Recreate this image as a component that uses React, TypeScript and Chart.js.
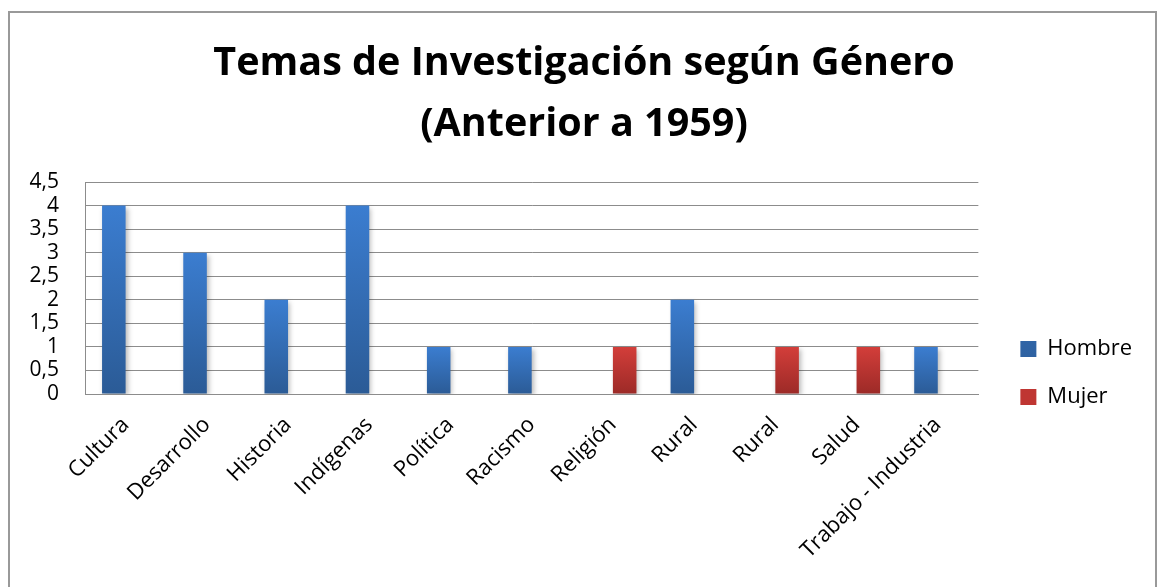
import React, { useEffect, useRef } from "react";
import { Chart, registerables } from "chart.js";

Chart.register(...registerables);

const categories = [
  "Cultura",
  "Desarrollo",
  "Historia",
  "Indígenas",
  "Política",
  "Racismo",
  "Religión",
  "Rural",
  "Rural",
  "Salud",
  "Trabajo - Industria",
];
const hombre = [4, 3, 2, 4, 1, 1, null, 2, null, null, 1];
const mujer = [null, null, null, null, null, null, 1, null, 1, 1, null];
const seriesNames = ["Hombre", "Mujer"];
const titleLines = ["Temas de Investigación según Género", "(Anterior a 1959)"];
const yMin = 0;
const yMax = 4.5;
const yStep = 0.5;

const FONT = "'Open Sans', 'Noto Sans', sans-serif";
const GRID = "#8c8c8c";

function gradient(top: string, bottom: string, mid: string) {
  return (ctx: any) => {
    const chart = ctx.chart;
    const y = chart.scales && chart.scales.y;
    if (!y || ctx.raw == null || !chart.chartArea) return mid;
    const yTop = y.getPixelForValue(ctx.raw);
    const yBot = y.getPixelForValue(0);
    if (!isFinite(yTop) || !isFinite(yBot) || yTop === yBot) return mid;
    const g = chart.ctx.createLinearGradient(0, yTop, 0, yBot);
    g.addColorStop(0, top);
    g.addColorStop(1, bottom);
    return g;
  };
}

const shadowPlugin = {
  id: "barShadow",
  beforeDatasetsDraw(chart: any) {
    const c = chart.ctx;
    c.save();
    c.shadowColor = "rgba(0,0,0,0.28)";
    c.shadowBlur = 5;
    c.shadowOffsetX = 2;
    c.shadowOffsetY = 2;
  },
  afterDatasetsDraw(chart: any) {
    chart.ctx.restore();
  },
};

export default function App() {
  const ref = useRef<HTMLCanvasElement | null>(null);

  useEffect(() => {
    document.body.style.overflow = "hidden";
    const canvas = ref.current;
    if (!canvas) return;
    const chart = new Chart(canvas, {
      type: "bar",
      data: {
        labels: categories,
        datasets: [
          {
            label: seriesNames[0],
            data: hombre,
            backgroundColor: gradient("#3b7dd0", "#2b5b96", "#336cb5"),
            borderWidth: 0,
            categoryPercentage: 0.58,
            barPercentage: 1.0,
          },
          {
            label: seriesNames[1],
            data: mujer,
            backgroundColor: gradient("#d33e3a", "#9c2a27", "#bf3632"),
            borderWidth: 0,
            categoryPercentage: 0.58,
            barPercentage: 1.0,
          },
        ],
      },
      options: {
        animation: false,
        responsive: false,
        maintainAspectRatio: false,
        layout: { padding: { left: 26, right: 15, top: 0, bottom: 0 } },
        plugins: {
          title: {
            display: true,
            text: titleLines,
            color: "#000",
            font: { family: FONT, size: 39.5, weight: "bold", lineHeight: 1.545 },
            padding: { top: 33.5, bottom: 26.5 },
          },
          legend: {
            position: "right",
            title: {
              display: true,
              text: " ",
              font: { family: FONT, size: 5, lineHeight: 1 },
              padding: { top: 154, bottom: 0 },
            },
            labels: {
              color: "#000",
              font: { family: FONT, size: 22 },
              boxWidth: 16,
              boxHeight: 16,
              padding: 26,
            },
          },
          tooltip: { enabled: false },
        },
        scales: {
          x: {
            grid: { display: false },
            border: { display: true, color: GRID },
            ticks: {
              color: "#000",
              font: { family: FONT, size: 22 },
              autoSkip: false,
              maxRotation: 45,
              minRotation: 45,
              padding: 10,
            },
            afterFit: (s: any) => {
              s.height = 193;
              s.paddingLeft = 0;
              s.paddingRight = 0;
            },
          },
          y: {
            min: yMin,
            max: yMax,
            grid: { color: GRID, drawTicks: false },
            border: { display: true, color: GRID },
            ticks: {
              stepSize: yStep,
              autoSkip: false,
              color: "#000",
              font: { family: FONT, size: 21 },
              padding: 26,
              callback: (v: any) => String(v).replace(".", ","),
            },
            afterFit: (s: any) => {
              s.width = 59;
            },
          },
          gap: {
            type: "linear",
            position: "right",
            display: true,
            grid: { display: false },
            border: { display: false },
            ticks: { display: false },
            afterFit: (s: any) => {
              s.width = 16;
            },
          },
        },
      },
      plugins: [shadowPlugin],
    });
    return () => chart.destroy();
  }, []);

  return (
    <div style={{ position: "fixed", left: 0, top: 0, width: 1157, height: 587, overflow: "hidden", background: "#fff" }}>
      <canvas ref={ref} width={1157} height={587} style={{ position: "absolute", left: 0, top: 0, width: 1157, height: 587 }} />
      <div
        style={{
          position: "absolute",
          left: 8,
          top: 11,
          width: 1149,
          height: 620,
          border: "2px solid #999",
          boxSizing: "border-box",
          pointerEvents: "none",
        }}
      />
    </div>
  );
}
